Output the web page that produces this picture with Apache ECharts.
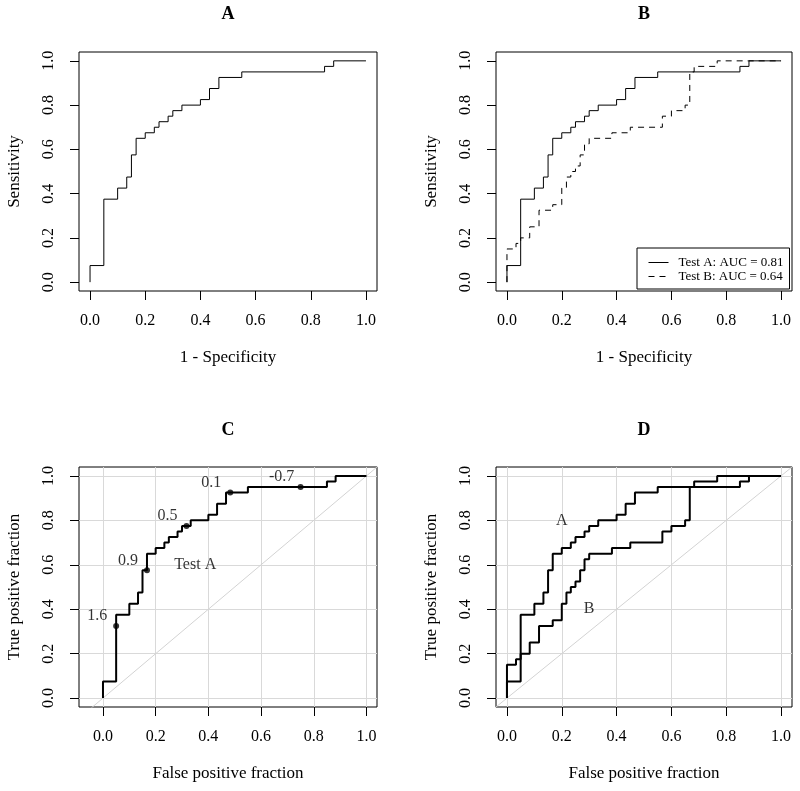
<!DOCTYPE html>
<html>
<head>
<meta charset="utf-8">
<script src="https://cdn.jsdelivr.net/npm/echarts@6/dist/echarts.min.js"></script>
<style>
  html, body { margin: 0; background: #fff; }
  #roc { width: 800px; height: 791px; }
</style>
</head>
<body>
<div id="roc"></div>
<script>
// tick positions shared by every axis
var ticks = [0, 0.2, 0.4, 0.6, 0.8, 1.0];

// ROC points of test A (false positive fraction / true positive fraction)
var fprA = [0, 0, 0.05, 0.1, 0.133, 0.15, 0.167, 0.2, 0.233, 0.25, 0.283, 0.3, 0.333, 0.4, 0.433, 0.467, 0.55, 0.85, 0.883, 1.0];
var tprA = [0, 0.075, 0.375, 0.425, 0.475, 0.575, 0.65, 0.675, 0.7, 0.725, 0.75, 0.775, 0.8, 0.825, 0.875, 0.925, 0.95, 0.975, 1.0, 1.0];

// ROC points of test B
var fprB = [0, 0, 0.033, 0.05, 0.083, 0.117, 0.167, 0.2, 0.217, 0.233, 0.25, 0.267, 0.283, 0.3, 0.383, 0.45, 0.567, 0.6, 0.65, 0.667, 0.683, 0.767, 1.0];
var tprB = [0, 0.15, 0.175, 0.2, 0.25, 0.325, 0.35, 0.425, 0.475, 0.5, 0.525, 0.575, 0.625, 0.65, 0.675, 0.7, 0.75, 0.775, 0.8, 0.95, 0.975, 1.0, 1.0];

// cut-off points marked on test A (panel C)
var cutLabels = ['1.6', '0.9', '0.5', '0.1', '-0.7'];
var cutFpr = [0.05, 0.167, 0.317, 0.483, 0.75];
var cutTpr = [0.325, 0.575, 0.775, 0.925, 0.95];

// curve names written inside panels C and D
var noteC = ['Test A'], noteCx = [0.35], noteCy = [0.6];
var noteD = ['A', 'B'], noteDx = [0.2, 0.3], noteDy = [0.8, 0.4];

var legendNames = ['Test A: AUC = 0.81', 'Test B: AUC = 0.64'];
var panelTitles = ['A', 'B', 'C', 'D'];

var serif = '"Liberation Serif", "DejaVu Serif", serif';

function pts(xs, ys) {
    var out = [];
    for (var i = 0; i < xs.length; i++) out.push([xs[i], ys[i]]);
    return out;
}
function notes(names, xs, ys) {
    return names.map(function (n, i) { return { name: n, value: [xs[i], ys[i]] }; });
}

function xAxis(idx, min, name) {
    return {
        type: 'value', gridIndex: idx, min: min, max: 1.04,
        name: name, nameLocation: 'middle', nameGap: 58,
        nameTextStyle: { fontFamily: serif, fontSize: 17, color: '#000' },
        axisLine: { show: false, onZero: false },
        splitLine: { show: false },
        axisTick: { show: true, length: 9, customValues: ticks, lineStyle: { color: '#000', width: 1 } },
        axisLabel: {
            customValues: ticks, margin: 22, fontFamily: serif, fontSize: 16, color: '#000',
            formatter: function (v) { return v.toFixed(1); }
        }
    };
}
function yAxis(idx, name) {
    return {
        type: 'value', gridIndex: idx, min: -0.04, max: 1.04,
        name: name, nameLocation: 'middle', nameGap: 56, nameRotate: 90,
        nameTextStyle: { fontFamily: serif, fontSize: 17, color: '#000' },
        axisLine: { show: false, onZero: false },
        splitLine: { show: false },
        axisTick: { show: true, length: 9, customValues: ticks, lineStyle: { color: '#000', width: 1 } },
        axisLabel: {
            customValues: ticks, margin: 22, rotate: 90, fontFamily: serif, fontSize: 16, color: '#000',
            formatter: function (v) { return v.toFixed(1); }
        }
    };
}

// light grey reference grid + diagonal for panels C and D
function diagonal(idx) {
    var lines = [];
    ticks.forEach(function (t) { lines.push({ xAxis: t }); lines.push({ yAxis: t }); });
    return {
        type: 'line', xAxisIndex: idx, yAxisIndex: idx, silent: true, z: 1,
        data: [[-1, -1], [2, 2]], symbol: 'none', clip: true,
        lineStyle: { color: '#d3d3d3', width: 1 },
        markLine: {
            z: 1, silent: true, symbol: 'none', animation: false,
            label: { show: false },
            emphasis: { disabled: true },
            lineStyle: { color: '#d9d9d9', width: 1, type: 'solid' },
            data: lines
        }
    };
}

function curve(idx, name, data, width, dash) {
    return {
        type: 'line', name: name, xAxisIndex: idx, yAxisIndex: idx,
        data: data, step: 'end', symbol: 'none', silent: true, z: 3,
        color: '#000',
        itemStyle: { color: '#000' },
        lineStyle: { color: '#000', width: width, type: dash || 'solid' }
    };
}

var plainLabel = {
    show: true, position: 'inside', formatter: '{b}',
    fontFamily: serif, fontSize: 16, color: '#000',
    textBorderWidth: 0, textBorderColor: 'transparent'
};

function textMarks(idx, data) {
    return {
        type: 'scatter', xAxisIndex: idx, yAxisIndex: idx, silent: true, z: 4,
        data: data, symbolSize: 0, itemStyle: { color: '#000' },
        label: plainLabel
    };
}

var dom = document.getElementById('roc');
var myChart = echarts.init(dom, null, { renderer: 'canvas' });

var titlePos = [[228, 14], [644, 14], [228, 430], [644, 430]];

var option = {
    backgroundColor: '#fff',
    animation: false,
    grid: [
        { left: 79, top: 52, width: 298, height: 239, show: true, borderColor: '#000', borderWidth: 1, backgroundColor: 'transparent' },
        { left: 496, top: 52, width: 296, height: 239, show: true, borderColor: '#000', borderWidth: 1, backgroundColor: 'transparent' },
        { left: 79, top: 467, width: 298, height: 240, show: true, borderColor: '#000', borderWidth: 1, backgroundColor: 'transparent' },
        { left: 496, top: 467, width: 296, height: 240, show: true, borderColor: '#000', borderWidth: 1, backgroundColor: 'transparent' }
    ],
    xAxis: [
        xAxis(0, -0.04, '1 - Specificity'),
        xAxis(1, -0.04, '1 - Specificity'),
        xAxis(2, -0.091, 'False positive fraction'),
        xAxis(3, -0.04, 'False positive fraction')
    ],
    yAxis: [
        yAxis(0, 'Sensitivity'),
        yAxis(1, 'Sensitivity'),
        yAxis(2, 'True positive fraction'),
        yAxis(3, 'True positive fraction')
    ],
    legend: {
        data: legendNames,
        orient: 'vertical',
        left: 637, top: 248,
        padding: [8, 6, 6, 11],
        itemWidth: 20, itemHeight: 14, itemGap: 1,
        selectedMode: false,
        itemStyle: { opacity: 0 },
        lineStyle: { width: 1, color: '#000' },
        backgroundColor: '#fff', borderColor: '#000', borderWidth: 1, borderRadius: 0,
        textStyle: { fontFamily: serif, fontSize: 13, color: '#000', padding: [0, 0, 0, 5] }
    },
    graphic: panelTitles.map(function (t, i) {
        return {
            type: 'text', x: titlePos[i][0], y: titlePos[i][1],
            style: { text: t, align: 'center', verticalAlign: 'middle', font: 'bold 18px ' + serif, fill: '#000' }
        };
    }),
    series: [
        curve(0, 'A', pts(fprA, tprA), 1),
        curve(1, legendNames[0], pts(fprA, tprA), 1),
        curve(1, legendNames[1], pts(fprB, tprB), 1, [6, 5]),
        diagonal(2),
        curve(2, 'Test A', pts(fprA, tprA), 2),
        {
            type: 'scatter', xAxisIndex: 2, yAxisIndex: 2, silent: true, z: 5,
            data: notes(cutLabels, cutFpr, cutTpr),
            symbol: 'circle', symbolSize: 6, itemStyle: { color: '#000' },
            label: Object.assign({}, plainLabel, { offset: [-19, -10] })
        },
        textMarks(2, notes(noteC, noteCx, noteCy)),
        diagonal(3),
        curve(3, 'Test A', pts(fprA, tprA), 2),
        curve(3, 'Test B', pts(fprB, tprB), 2),
        textMarks(3, notes(noteD, noteDx, noteDy))
    ]
};

if (option && typeof option === 'object') {
    myChart.setOption(option, true);
}
</script>
</body>
</html>
